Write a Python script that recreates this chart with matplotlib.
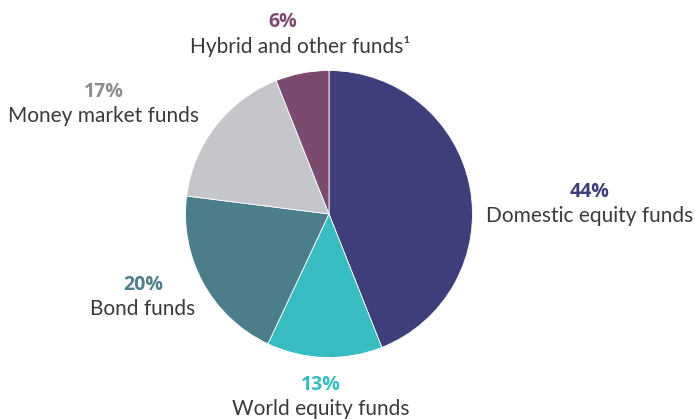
import matplotlib
matplotlib.use("Agg")
import matplotlib.pyplot as plt

categories = ["Domestic equity funds", "World equity funds", "Bond funds",
              "Money market funds", "Hybrid and other funds\u00b9"]
values = [44, 13, 20, 17, 6]
pct_labels = ["44%", "13%", "20%", "17%", "6%"]

slice_colors = ["#3e3f7a", "#36bcc1", "#4b7e8a", "#c5c6c9", "#7c4a6e"]
pct_colors = ["#3e3f7a", "#36bcc1", "#4b7e8a", "#8c8d90", "#7c4a6e"]
# label centre positions in pixel coordinates (x, y from top)
label_pos = [(590, 192), (321, 385), (143, 285), (104, 92), (300, 22)]

W, H = 695, 419
fig = plt.figure(figsize=(W / 100, H / 100), dpi=100)
ax = fig.add_axes([0, 0, 1, 1])
ax.pie(values, colors=slice_colors, startangle=90, counterclock=False,
       center=(329, H - 214), radius=143.5, frame=True,
       wedgeprops=dict(linewidth=0.6, edgecolor="white"))
ax.set_xlim(0, W)
ax.set_ylim(0, H)
ax.set_aspect("equal")
ax.axis("off")

for i, (cat, pct) in enumerate(zip(categories, pct_labels)):
    x, y = label_pos[i]
    px = x
    if i == 4:
        px = 283
    ax.text(px, H - y, pct, ha="center", va="center", fontsize=14,
            fontweight="bold", color=pct_colors[i],
            family=["Open Sans", "DejaVu Sans"])
    ax.text(x, H - y - 24, cat, ha="center", va="center", fontsize=15,
            fontweight="normal", color="#3a3a3a",
            family=["Lato", "DejaVu Sans"])

fig.savefig("out.png", dpi=100)
